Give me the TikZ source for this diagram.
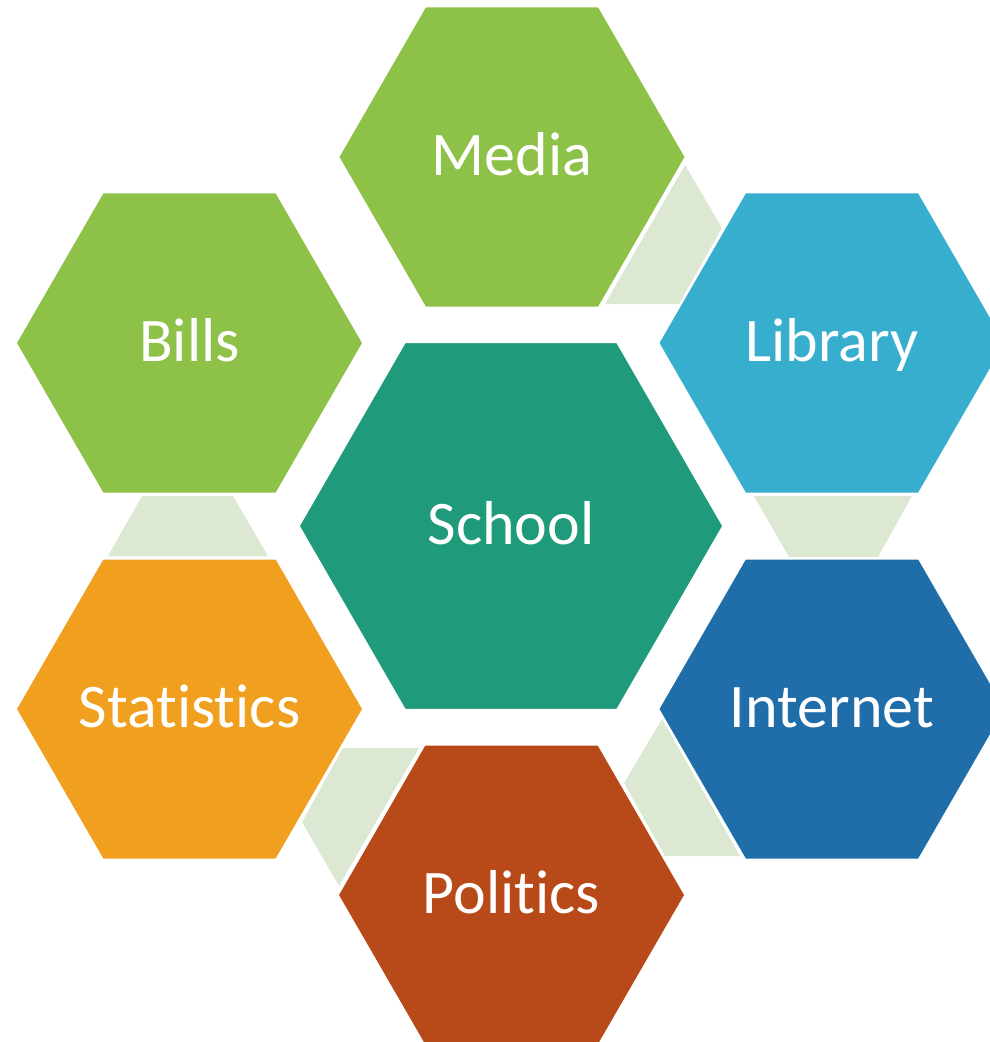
\documentclass[tikz,border=0pt]{standalone}
\usepackage{fontspec}
\setmainfont[Ligatures={NoCommon}]{Carlito}
\definecolor{cgreen}{HTML}{8DC147}
\definecolor{cblue}{HTML}{38AECE}
\definecolor{cteal}{HTML}{1F9A7A}
\definecolor{cdblue}{HTML}{1F6EA9}
\definecolor{crust}{HTML}{B84A19}
\definecolor{corange}{HTML}{F19F1E}
\definecolor{clink}{HTML}{DCE8D2}
\newcommand{\hexagonat}[4]{\filldraw[fill=#4, draw=white, line width=1.5pt] (#1,#2) ++(0:#3) -- ++(120:#3) -- ++(180:#3) -- ++(240:#3) -- ++(300:#3) -- ++(0:#3) -- cycle;}
\begin{document}
\begin{tikzpicture}[x=1pt,y=-1pt,
  lbl/.style={text=white, font=\fontsize{62}{70}\selectfont, text height=36pt, text depth=0pt, inner sep=0pt},
  link/.style={fill=clink}]
\useasboundingbox (0,0) rectangle (990,1042);
\clip (0,0) rectangle (990,1042);
% connector shapes
\fill[link] (685,165) -- (722,228) -- (679,304) -- (605,304) -- cycle;
\fill[link] (754,496) -- (912,496) -- (878,557) -- (789,557) -- cycle;
\fill[link] (662,719) -- (624,783) -- (665,856) -- (740,856) -- cycle;
\fill[link] (343,748) -- (419,748) -- (339,886) -- (302,822) -- cycle;
\fill[link] (142,496) -- (233,496) -- (268,556) -- (108,556) -- cycle;
% hexagons
\hexagonat{512}{157}{173.5}{cgreen}
\hexagonat{189.5}{343}{173.5}{cgreen}
\hexagonat{832}{343}{173.5}{cblue}
\hexagonat{511}{526}{212}{cteal}
\hexagonat{189.5}{709}{173.5}{corange}
\hexagonat{832}{709}{173.5}{cdblue}
\hexagonat{511.5}{895}{173.5}{crust}
% labels
\node[lbl] (media) at (512,157) {Media};
\node[lbl] (bills) at (189.5,343) {Bills};
\node[lbl] (library) at (832,343) {Library};
\node[lbl] (school) at (511,526) {School};
\node[lbl] (statistics) at (189.5,709) {Statistics};
\node[lbl] (internet) at (832,709) {Internet};
\node[lbl] (politics) at (511.5,895) {Politics};
\end{tikzpicture}
\end{document}
